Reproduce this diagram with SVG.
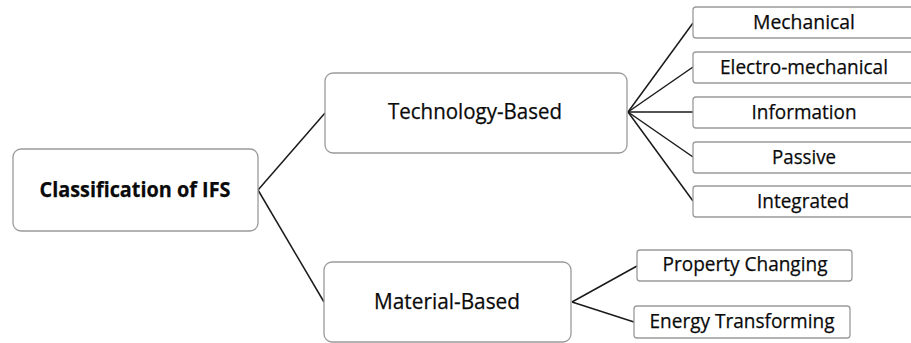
<svg xmlns="http://www.w3.org/2000/svg" width="911" height="343" viewBox="0 0 911 343">
  <style>
    .box { fill: #ffffff; stroke: #9a9a9a; stroke-width: 1.3; }
    .lbl { font-family: "Open Sans", "Liberation Sans", sans-serif; fill: #0a0a0a; stroke: #0a0a0a; stroke-width: 0.25; text-anchor: middle; }
    .big { font-size: 22px; }
    .small { font-size: 20.5px; }
    .root { font-size: 22px; font-weight: bold; }
    .link { stroke: #1a1a1a; stroke-width: 1.5; fill: none; }
  </style>
  <rect width="911" height="343" fill="#ffffff"/>

  <!-- connectors -->
  <g id="connectors">
    <line class="link" x1="258" y1="190" x2="325" y2="113"/>
    <line class="link" x1="258" y1="190" x2="324" y2="302"/>
    <line class="link" x1="628" y1="112" x2="693" y2="23"/>
    <line class="link" x1="628" y1="112" x2="693" y2="67"/>
    <line class="link" x1="628" y1="112" x2="693" y2="112"/>
    <line class="link" x1="628" y1="112" x2="693" y2="157"/>
    <line class="link" x1="628" y1="112" x2="693" y2="201"/>
    <line class="link" x1="572" y1="302" x2="637" y2="266"/>
    <line class="link" x1="572" y1="302" x2="634" y2="322"/>
  </g>

  <!-- root -->
  <g id="classification-of-ifs">
    <rect class="box" x="13" y="149" width="245" height="82" rx="8"/>
    <text class="lbl root" x="135" y="197" textLength="191" lengthAdjust="spacingAndGlyphs">Classification of IFS</text>
  </g>

  <!-- first level -->
  <g id="technology-based">
    <rect class="box" x="325" y="73" width="302" height="80" rx="8"/>
    <text class="lbl big" x="475" y="119" textLength="174" lengthAdjust="spacingAndGlyphs">Technology-Based</text>
  </g>
  <g id="material-based">
    <rect class="box" x="324" y="262" width="247" height="80" rx="8"/>
    <text class="lbl big" x="447" y="309" textLength="146" lengthAdjust="spacingAndGlyphs">Material-Based</text>
  </g>

  <!-- technology leaves -->
  <g id="mechanical">
    <rect class="box" x="693" y="7" width="222" height="31" rx="3"/>
    <text class="lbl small" x="804" y="29" textLength="102" lengthAdjust="spacingAndGlyphs">Mechanical</text>
  </g>
  <g id="electro-mechanical">
    <rect class="box" x="693" y="52" width="222" height="31" rx="3"/>
    <text class="lbl small" x="804" y="74" textLength="168" lengthAdjust="spacingAndGlyphs">Electro-mechanical</text>
  </g>
  <g id="information">
    <rect class="box" x="693" y="97" width="222" height="31" rx="3"/>
    <text class="lbl small" x="804" y="119" textLength="105" lengthAdjust="spacingAndGlyphs">Information</text>
  </g>
  <g id="passive">
    <rect class="box" x="693" y="142" width="222" height="31" rx="3"/>
    <text class="lbl small" x="804" y="164" textLength="64" lengthAdjust="spacingAndGlyphs">Passive</text>
  </g>
  <g id="integrated">
    <rect class="box" x="693" y="186" width="222" height="31" rx="3"/>
    <text class="lbl small" x="803" y="208" textLength="92" lengthAdjust="spacingAndGlyphs">Integrated</text>
  </g>

  <!-- material leaves -->
  <g id="property-changing">
    <rect class="box" x="637" y="250" width="215" height="31" rx="3"/>
    <text class="lbl small" x="745" y="271" textLength="165" lengthAdjust="spacingAndGlyphs">Property Changing</text>
  </g>
  <g id="energy-transforming">
    <rect class="box" x="634" y="306" width="216" height="32" rx="3"/>
    <text class="lbl small" x="742" y="328" textLength="185" lengthAdjust="spacingAndGlyphs">Energy Transforming</text>
  </g>
</svg>
